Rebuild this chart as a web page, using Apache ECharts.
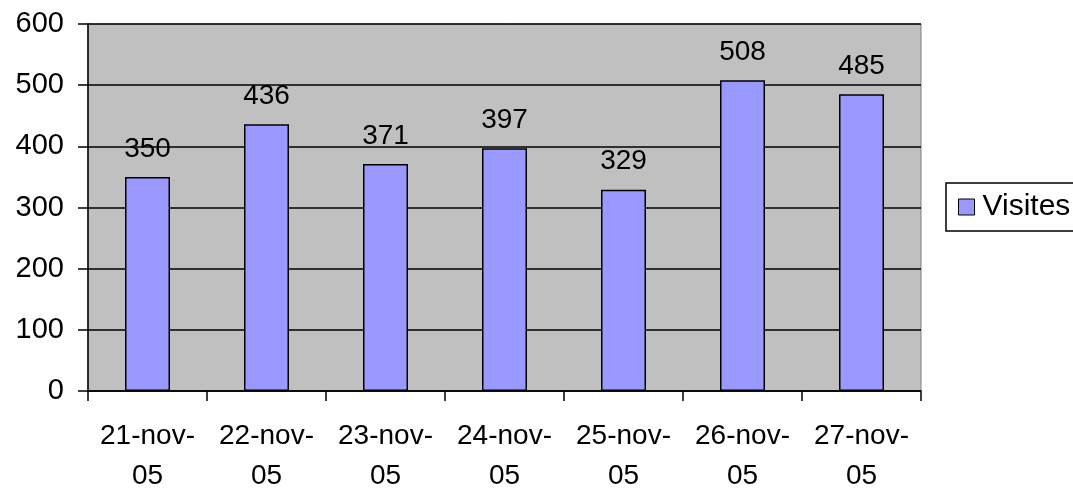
<!DOCTYPE html>
<html><head><meta charset="utf-8">
<style>html,body{margin:0;padding:0;background:#fff}#c{width:1073px;height:488px}</style>
<script src="https://cdn.jsdelivr.net/npm/echarts@6/dist/echarts.min.js"></script>
</head><body><div id="c"></div>
<script>
const categories = ['21-nov-\n05','22-nov-\n05','23-nov-\n05','24-nov-\n05','25-nov-\n05','26-nov-\n05','27-nov-\n05'];
const visites = [350, 436, 371, 397, 329, 508, 485];
const seriesName = 'Visites';

const font = 'Liberation Sans, Arial, sans-serif';
const chart = echarts.init(document.getElementById('c'), null, {renderer:'canvas'});
chart.setOption({
  animation: false,
  backgroundColor: '#fff',
  textStyle: {fontFamily: font, color: '#000'},
  grid: {left: 88, right: 152, top: 24, bottom: 97, containLabel: false, outerBoundsMode: 'none',
         show: true, backgroundColor: '#c0c0c0', borderColor: '#808080', borderWidth: 1},
  legend: {
    data: [seriesName], left: 946, top: 183, orient: 'vertical',
    padding: [9, 20, 9, 12], itemWidth: 16, itemHeight: 16,
    borderColor: '#000', borderWidth: 1.5, backgroundColor: '#fff',
    icon: 'rect',
    itemStyle: {borderColor: '#000', borderWidth: 1},
    textStyle: {fontFamily: font, fontSize: 30, color: '#000', lineHeight: 30, padding: [0,0,0,3]}
  },
  xAxis: {
    type: 'category', data: categories, boundaryGap: true,
    axisLine: {lineStyle: {color: '#000', width: 1.5}},
    axisTick: {show: true, length: 10, inside: false, alignWithLabel: false, lineStyle: {color: '#000', width: 1.5}},
    axisLabel: {fontFamily: font, fontSize: 28, color: '#000', lineHeight: 40, margin: 25, interval: 0}
  },
  yAxis: {
    type: 'value', min: 0, max: 600, interval: 100,
    axisLine: {show: true, lineStyle: {color: '#000', width: 1.5}},
    axisTick: {show: true, length: 10, lineStyle: {color: '#000', width: 1.5}},
    axisLabel: {fontFamily: font, fontSize: 29, color: '#000', margin: 24},
    splitLine: {show: true, lineStyle: {color: '#000', width: 1.5}}
  },
  series: [{
    name: seriesName, type: 'bar', data: visites, barWidth: 45, barCategoryGap: '62%',
    itemStyle: {color: '#9999ff', borderColor: '#000', borderWidth: 1.5},
    label: {show: true, position: 'top', distance: 14, fontFamily: font, fontSize: 28, color: '#000'}
  }]
});
</script></body></html>
